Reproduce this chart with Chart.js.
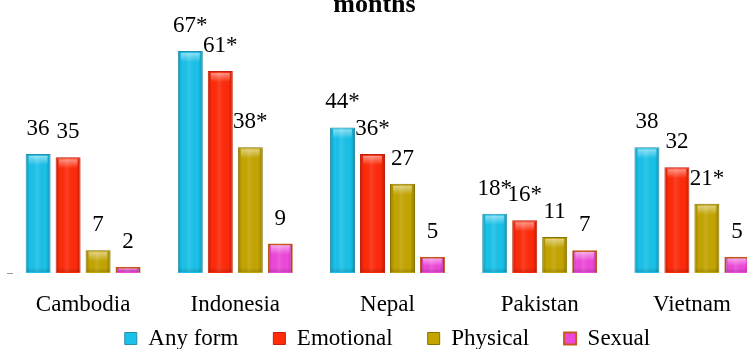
<!DOCTYPE html>
<html>
<head>
<meta charset="utf-8">
<script src="https://cdn.jsdelivr.net/npm/chart.js@4.4.1/dist/chart.umd.min.js"></script>
<style>
  html, body { margin: 0; padding: 0; overflow: hidden; background: #fff; width: 747px; height: 349px; }
  #wrap { position: absolute; left: 0; top: -20px; width: 776px; height: 417px; }
</style>
</head>
<body>
<div id="wrap"><canvas id="c"></canvas></div>
<script>
// ---- data ----
const categories = ['Cambodia', 'Indonesia', 'Nepal', 'Pakistan', 'Vietnam'];
const seriesNames = ['Any form', 'Emotional', 'Physical', 'Sexual'];
const anyForm   = [36, 67, 44, 18, 38];
const emotional = [35, 61, 36, 16, 32];
const physical  = [7, 38, 27, 11, 21];
const sexual    = [2, 9, 5, 7, 5];
// significance markers shown after the value label
const anyFormSig   = ['', '*', '*', '*', ''];
const emotionalSig = ['', '*', '*', '*', ''];
const physicalSig  = ['', '*', '', '', '*'];
const sexualSig    = ['', '', '', '', ''];
const titleText = 'months';

const FONT = '"Liberation Serif", "Times New Roman", Times, serif';

const styles = [
  { fill: '#19C2EA', border: '#2A8CA6', bw: 1 },
  { fill: '#FF2A0A', border: '#C2200C', bw: 1 },
  { fill: '#C4A500', border: '#857200', bw: 1 },
  { fill: '#EE48DA', border: '#C5581E', bw: 2 }
];
const values = [anyForm, emotional, physical, sexual];
const sigs = [anyFormSig, emotionalSig, physicalSig, sexualSig];

const datasets = values.map((v, i) => ({
  label: seriesNames[i],
  data: v,
  sig: sigs[i],
  backgroundColor: styles[i].fill,
  borderColor: styles[i].border,
  borderWidth: styles[i].bw,
  categoryPercentage: 0.788,
  barPercentage: 0.833
}));

// nudge legend/title boxes after layout
const nudge = {
  id: 'nudge',
  afterLayout(chart) {
    const lg = chart.legend;
    if (lg) { lg.top -= 37; lg.bottom -= 37; }
    const t = chart.titleBlock;
    if (t) { t.left -= 13; t.right -= 13; }
  }
};

const gelAndLabels = {
  id: 'gelAndLabels',
  afterDatasetsDraw(chart) {
    const ctx = chart.ctx;
    ctx.save();
    chart.data.datasets.forEach((ds, di) => {
      const meta = chart.getDatasetMeta(di);
      meta.data.forEach((el, i) => {
        const p = el.getProps(['x', 'y', 'base', 'width'], true);
        const left = p.x - p.width / 2, right = p.x + p.width / 2;
        const top = Math.min(p.y, p.base), bottom = Math.max(p.y, p.base);
        const h = bottom - top;
        if (h > 2) {
          const g = ctx.createLinearGradient(left, 0, right, 0);
          g.addColorStop(0, 'rgba(0,0,0,0.22)');
          g.addColorStop(0.18, 'rgba(0,0,0,0)');
          g.addColorStop(0.45, 'rgba(255,255,255,0.10)');
          g.addColorStop(0.8, 'rgba(0,0,0,0)');
          g.addColorStop(1, 'rgba(0,0,0,0.25)');
          ctx.fillStyle = g;
          ctx.fillRect(left + 1, top + 1, p.width - 2, h - 2);
          const hh = Math.min(10, h / 2);
          const g2 = ctx.createLinearGradient(0, top + 1, 0, top + 1 + hh);
          g2.addColorStop(0, 'rgba(255,255,255,0.55)');
          g2.addColorStop(1, 'rgba(255,255,255,0)');
          ctx.fillStyle = g2;
          ctx.fillRect(left + 3, top + 2, p.width - 6, hh);
          const g3 = ctx.createLinearGradient(0, bottom - 5, 0, bottom);
          g3.addColorStop(0, 'rgba(0,0,0,0)');
          g3.addColorStop(1, 'rgba(0,0,0,0.18)');
          ctx.fillStyle = g3;
          ctx.fillRect(left + 1, bottom - 5, p.width - 2, 4);
        }
        ctx.fillStyle = '#000';
        ctx.font = '23px ' + FONT;
        ctx.textAlign = 'center';
        ctx.textBaseline = 'alphabetic';
        ctx.fillText(String(ds.data[i]) + (ds.sig[i] || ''), p.x, p.y - 19);
      });
    });
    ctx.restore();
  }
};

function draw() {
  new Chart(document.getElementById('c'), {
    type: 'bar',
    data: { labels: categories, datasets },
    plugins: [nudge, gelAndLabels],
    options: {
      responsive: true,
      maintainAspectRatio: false,
      animation: false,
      devicePixelRatio: 1,
      layout: { padding: { left: 7, right: 8, top: 0, bottom: 0 } },
      plugins: {
        title: {
          display: true,
          text: titleText,
          color: '#000',
          font: { family: FONT, size: 26, weight: 'bold', lineHeight: 1.2 },
          padding: { top: 9.6, bottom: 3.7 }
        },
        legend: {
          position: 'bottom',
          labels: {
            color: '#000',
            font: { family: FONT, size: 23 },
            boxWidth: 12,
            boxHeight: 12,
            padding: 35
          }
        },
        tooltip: { enabled: false }
      },
      scales: {
        x: {
          grid: { display: false },
          border: { display: false },
          ticks: { color: '#000', font: { family: FONT, size: 23 }, padding: 10, maxRotation: 0 }
        },
        y: {
          min: 0,
          max: 75,
          border: { display: false },
          grid: { drawOnChartArea: false, drawTicks: true, tickLength: -6, tickColor: '#9a9a9a', lineWidth: 1 },
          ticks: { display: false },
          afterBuildTicks(s) { s.ticks = [{ value: 0 }]; },
          afterFit(s) { s.width = 0; }
        }
      }
    }
  });
}

if (document.fonts && document.fonts.load) {
  Promise.all([
    document.fonts.load('23px "Liberation Serif"'),
    document.fonts.load('bold 26px "Liberation Serif"')
  ]).then(draw, draw);
} else {
  draw();
}
</script>
</body>
</html>
